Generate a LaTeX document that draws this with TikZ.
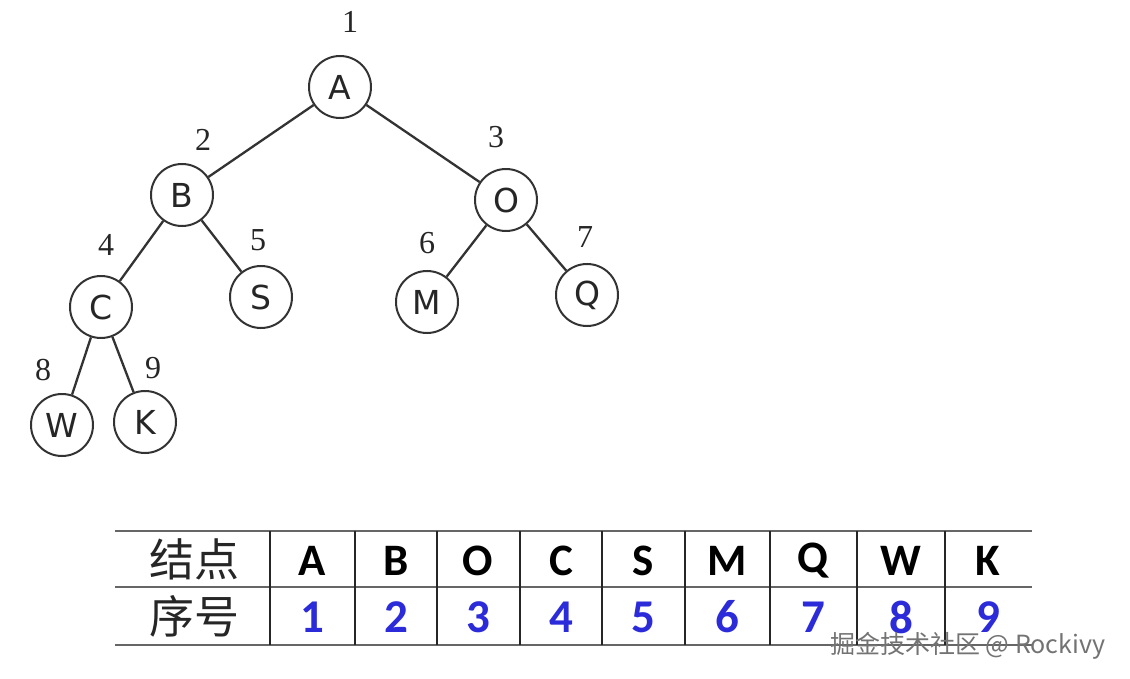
\documentclass[tikz,border=0pt]{standalone}
\usepackage{fontspec}
\setmainfont{Liberation Serif}
\newfontfamily\treefont{DejaVu Sans}
\newfontfamily\tabfont{Carlito}
\newfontfamily\cjk{Noto Sans CJK SC}
\definecolor{numblue}{HTML}{2B2BD9}
\definecolor{lineg}{HTML}{333333}
\tikzset{
  tnode/.style={circle, draw=lineg, line width=2pt, minimum size=62pt, inner sep=0pt, font=\treefont\fontsize{33}{36}\selectfont, text=black!85},
  tnum/.style={inner sep=0pt, font=\fontsize{32}{34}\selectfont, text=black!85},
  edge/.style={draw=lineg, line width=2.3pt},
  hline/.style={draw=black!60, line width=2.6pt},
  vline/.style={draw=black!85, line width=1.8pt},
  tlet/.style={inner sep=0pt, font=\tabfont\bfseries\fontsize{45}{48}\selectfont, text=black},
  tdig/.style={inner sep=0pt, font=\tabfont\bfseries\fontsize{47}{48}\selectfont, text=numblue},
  thead/.style={inner sep=0pt, font=\cjk\fontsize{45}{48}\selectfont, text=black!85},
  wmark/.style={inner sep=0pt, anchor=west, font=\cjk\fontsize{25}{27}\selectfont, text=black!55}
}
\begin{document}
\begin{tikzpicture}[x=1pt,y=-1pt]
\fill[white] (0,0) rectangle (1130,679);
\useasboundingbox (0,0) rectangle (1130,679);
% tree nodes
\node[tnode] (A) at (340,87) {A};
\node[tnode] (B) at (182,195) {B};
\node[tnode] (O) at (506,200) {O};
\node[tnode] (C) at (101,307) {C};
\node[tnode] (S) at (261,297) {S};
\node[tnode] (M) at (427,302) {M};
\node[tnode] (Q) at (587,295) {Q};
\node[tnode] (W) at (62,425) {W};
\node[tnode] (K) at (145,422) {K};
% numbers
\node[tnum] (n1) at (350,22) {1};
\node[tnum] (n2) at (203,140) {2};
\node[tnum] (n3) at (496,137) {3};
\node[tnum] (n4) at (106,245) {4};
\node[tnum] (n5) at (258,240) {5};
\node[tnum] (n6) at (427,243) {6};
\node[tnum] (n7) at (585,237) {7};
\node[tnum] (n8) at (43,370) {8};
\node[tnum] (n9) at (153,368) {9};
% edges
\draw[edge] (A) -- (B);
\draw[edge] (A) -- (O);
\draw[edge] (B) -- (C);
\draw[edge] (B) -- (S);
\draw[edge] (O) -- (M);
\draw[edge] (O) -- (Q);
\draw[edge] (C) -- (W);
\draw[edge] (C) -- (K);
% table
\foreach \y in {531,587,645} \draw[hline] (115,\y) -- (1032,\y);
\foreach \x in {270,355,437,520,602,685,770,857,945} \draw[vline] (\x,531) -- (\x,645);
\node[thead] (h1) at (194,559) {结点};
\node[thead] (h2) at (194,616) {序号};
\foreach \l/\x [count=\i] in {A/312,B/396,O/478,C/561,S/643,M/727,Q/813,W/901,K/988} {
  \node[tlet] (L\i) at (\x,561) {\l};
  \node[tdig] (D\i) at (\x,617) {\i};
}
% watermark
\node[wmark] (wm) at (830,646) {掘金技术社区 @ Rockivy};
\end{tikzpicture}
\end{document}
